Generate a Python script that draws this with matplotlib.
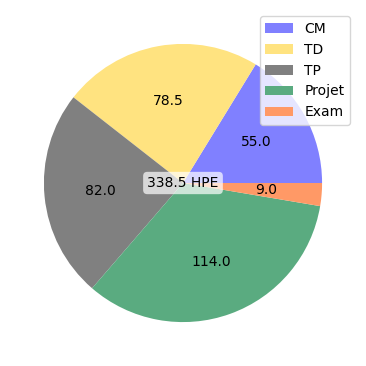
import numpy as np
import matplotlib
matplotlib.use('Agg')
import matplotlib.pyplot as plt

# données
labels = ['CM', 'TD', 'TP', 'Projet', 'Exam']
heures = [55.0, 78.5, 82.0, 114.0, 9.0]
couleurs = ['#8080ff', '#ffe380', '#808080', '#5aab80', '#ff9966']

total = sum(heures)

fig = plt.figure(figsize=(3.66, 3.66), dpi=100)
ax = fig.add_axes([0.025, 0.025, 0.95, 0.95])

ax.pie(heures, colors=couleurs, startangle=0, counterclock=True,
       autopct=lambda p: f'{p * total / 100:.1f}')

ax.text(0, 0, f'{total:.1f} HPE', ha='center', va='center', fontsize=10,
        bbox=dict(boxstyle='round', facecolor='white', edgecolor='none', alpha=0.7))

ax.legend(labels, loc='upper right')

plt.savefig('out.png', dpi=100)
